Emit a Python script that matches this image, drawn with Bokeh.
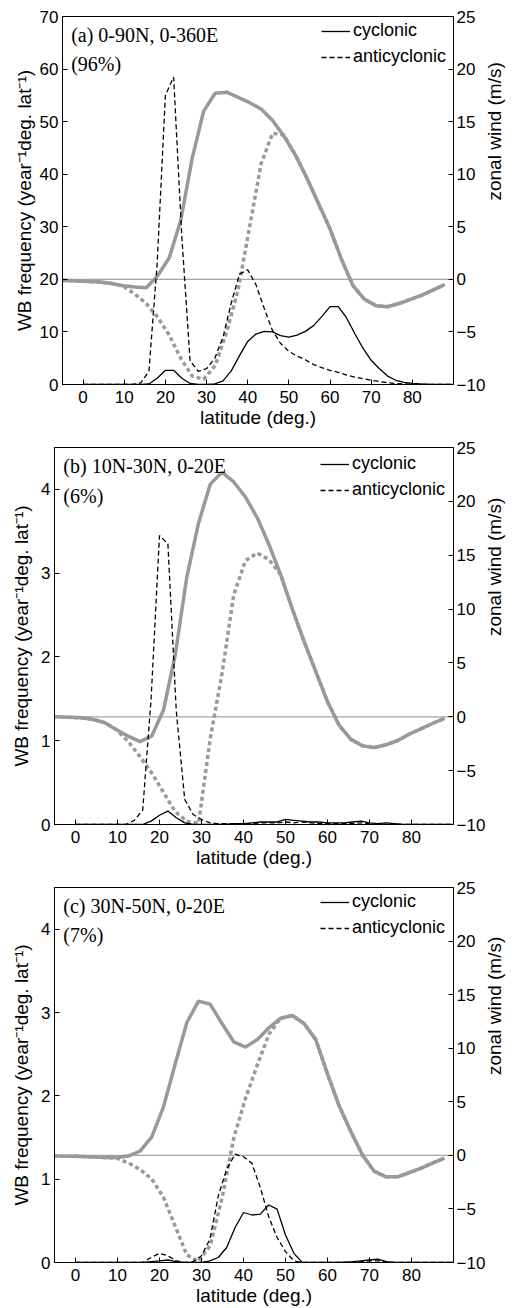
import math

from bokeh.embed import file_html
from bokeh.models import (CustomJSTickFormatter, FixedTicker, Label, Legend,
                          LegendItem, LinearAxis, Range1d, Span)
from bokeh.plotting import figure
from bokeh.resources import INLINE

# ---------------------------------------------------------------- data
# zonal-wind latitudes (T42 Gaussian grid, deg N)
lat_w = [-6.98, -4.19, -1.40, 1.40, 4.19, 6.98, 9.77, 12.56, 15.35, 18.14,
         20.93, 23.72, 26.51, 29.30, 32.09, 34.88, 37.67, 40.47, 43.26, 46.05,
         48.84, 51.63, 54.42, 57.21, 60.00, 62.79, 65.58, 68.37, 71.16, 73.95,
         76.74, 79.53, 82.33, 85.12, 87.86]

# wave-breaking frequency latitudes (deg N)
lat_f = [0, 2, 4, 6, 8, 10, 12, 14, 16, 18, 20, 22, 24, 26, 28, 30, 32, 34,
         36, 38, 40, 42, 44, 46, 48, 50, 52, 54, 56, 58, 60, 62, 64, 66, 68,
         70, 72, 74, 76, 78, 80, 82, 84, 86, 88, 90]

# (a) 0-90N, 0-360E
wind_a = [-0.1, -0.1, -0.15, -0.2, -0.25, -0.4, -0.6, -0.72, -0.8, 0.35,
          2.05, 5.6, 11.5, 16.0, 17.7, 17.8, 17.3, 16.8, 16.2, 15.1,
          13.6, 11.8, 9.6, 7.2, 4.8, 1.9, -0.6, -1.9, -2.5, -2.6,
          -2.3, -1.9, -1.5, -1.0, -0.5]
wind2_a = [-0.1, -0.1, -0.15, -0.2, -0.25, -0.4, -0.65, -1.4, -2.3, -3.6,
           -5.3, -7.5, -9.2, -9.5, -8.2, -5.0, -1.0, 5.0, 11.0, 13.9,
           13.7, 11.8, 9.6, 7.2, 4.8, 1.9, -0.6, -1.9, -2.5, -2.6,
           -2.3, -1.9, -1.5, -1.0, -0.5]
cyc_a = [0, 0, 0, 0, 0, 0, 0, 0, 0.1, 1.2, 2.7, 2.7, 1.2, 0.2, 0, 0, 0.1, 0.7,
         2.6, 5.5, 8.2, 9.6, 10.1, 10.0, 9.3, 9.0, 9.4, 10.1, 11.2, 12.9, 14.8,
         14.8, 12.7, 9.7, 6.9, 4.6, 3.0, 1.6, 0.8, 0.4, 0.2, 0.1, 0.05, 0.02,
         0.01, 0]
anti_a = [0, 0, 0, 0, 0, 0, 0, 0.3, 2.5, 23.0, 55.0, 58.5, 28.0, 4.5, 2.5, 3.0,
          5.0, 9.0, 15.5, 21.0, 21.8, 19.0, 14.5, 10.3, 7.8, 6.3, 5.4, 4.7, 3.8,
          3.2, 2.7, 2.3, 1.8, 1.4, 1.1, 0.8, 0.55, 0.35, 0.2, 0.1, 0.05, 0.02,
          0, 0, 0, 0]

# (b) 10N-30N, 0-20E
wind_b = [0.0, 0.0, -0.05, -0.1, -0.25, -0.55, -1.2, -1.8, -2.3, -1.8,
          0.6, 5.7, 13.0, 18.0, 21.6, 22.7, 21.8, 20.4, 18.5, 16.0,
          13.2, 10.0, 7.0, 4.2, 1.4, -0.8, -2.1, -2.7, -2.85, -2.6,
          -2.2, -1.6, -1.1, -0.6, -0.15]
wind2_b = [0.0, 0.0, -0.05, -0.1, -0.25, -0.55, -1.2, -2.3, -3.7, -5.2,
           -7.0, -8.8, -9.7, -9.9, -2.0, 4.0, 11.3, 14.5, 15.2, 14.6,
           13.2, 10.0, 7.0, 4.2, 1.4, -0.8, -2.1, -2.7, -2.85, -2.6,
           -2.2, -1.6, -1.1, -0.6, -0.15]
cyc_b = [0, 0, 0, 0, 0, 0, 0, 0, 0, 0.04, 0.11, 0.16, 0.08, 0.02, 0, 0, 0, 0,
         0.005, 0.01, 0.01, 0.02, 0.03, 0.03, 0.03, 0.06, 0.05, 0.04, 0.03,
         0.03, 0.02, 0.02, 0.02, 0.03, 0.04, 0.02, 0.01, 0.02, 0.01, 0, 0, 0,
         0, 0, 0, 0]
anti_b = [0, 0, 0, 0, 0, 0, 0, 0.05, 0.17, 1.5, 3.45, 3.35, 1.35, 0.3, 0.12,
          0.06, 0.02, 0.01, 0.01, 0.01, 0.01, 0.01, 0.02, 0.02, 0.02, 0.03,
          0.02, 0.03, 0.02, 0.01, 0.01, 0.01, 0.01, 0.01, 0.02, 0.01, 0, 0, 0,
          0, 0, 0, 0, 0, 0, 0]

# (c) 30N-50N, 0-20E
wind_c = [-0.05, -0.07, -0.08, -0.1, -0.15, -0.2, -0.2, -0.07, 0.4, 1.7,
          4.5, 8.5, 12.4, 14.4, 14.1, 12.3, 10.6, 10.1, 10.8, 11.9,
          12.8, 13.05, 12.3, 10.8, 7.6, 4.6, 2.2, 0.0, -1.5, -2.0,
          -2.0, -1.6, -1.2, -0.7, -0.25]
wind2_c = [-0.05, -0.07, -0.08, -0.1, -0.15, -0.2, -0.25, -0.7, -1.3, -2.2,
           -3.9, -6.6, -9.3, -9.9, -8.4, -4.0, 1.6, 5.3, 8.4, 11.3,
           12.8, 13.05, 12.3, 10.8, 7.6, 4.6, 2.2, 0.0, -1.5, -2.0,
           -2.0, -1.6, -1.2, -0.7, -0.25]
cyc_c = [0, 0, 0, 0, 0, 0, 0, 0, 0, 0.01, 0.02, 0.03, 0.01, 0, 0, 0, 0.02,
         0.06, 0.18, 0.42, 0.60, 0.57, 0.58, 0.69, 0.64, 0.33, 0.11, 0, 0, 0,
         0, 0, 0.005, 0.01, 0.02, 0.03, 0.04, 0.01, 0, 0, 0, 0, 0, 0, 0, 0]
anti_c = [0, 0, 0, 0, 0, 0, 0, 0, 0, 0.06, 0.11, 0.08, 0.02, 0, 0.01, 0.08,
          0.28, 0.8, 1.12, 1.30, 1.27, 1.19, 0.9, 0.55, 0.3, 0.13, 0.02, 0, 0,
          0, 0, 0, 0, 0, 0.01, 0.02, 0.02, 0.01, 0, 0, 0, 0, 0, 0, 0, 0]

lat_ticks = [0, 10, 20, 30, 40, 50, 60, 70, 80]
freq_ticks_a = [0, 10, 20, 30, 40, 50, 60, 70]
freq_ticks_bc = [0, 1, 2, 3, 4]
wind_ticks = [-10, -5, 0, 5, 10, 15, 20, 25]

titles = ["(a) 0-90N, 0-360E", "(b) 10N-30N, 0-20E", "(c) 30N-50N, 0-20E"]
shares = ["(96%)", "(6%)", "(7%)"]

# ---------------------------------------------------------------- styling
SANS = "Liberation Sans"
SERIF = "Liberation Serif"
GREY = "#999999"
ZERO_GREY = "#a6a6a6"
TICK_PX = "17px"
LABEL_PX = "19px"
LEGEND_PX = "18px"

minus_fmt = CustomJSTickFormatter(
    code="return tick < 0 ? '\u2212' + Math.abs(tick) : String(tick);")


def style_axis(ax, ticks, standoff, label_standoff):
    ax.ticker = FixedTicker(ticks=ticks)
    ax.formatter = minus_fmt
    ax.axis_line_color = "black"
    ax.axis_line_width = 1
    ax.major_tick_in = 5
    ax.major_tick_out = 0
    ax.minor_tick_in = 0
    ax.minor_tick_out = 0
    ax.major_tick_line_color = "black"
    ax.major_label_text_font = SANS
    ax.major_label_text_font_size = TICK_PX
    ax.major_label_text_color = "black"
    ax.major_label_standoff = standoff
    ax.axis_label_text_font = SANS
    ax.axis_label_text_font_size = LABEL_PX
    ax.axis_label_text_font_style = "normal"
    ax.axis_label_text_color = "black"
    ax.axis_label_standoff = label_standoff


def make_panel(height, top, left, right, frame_h, fmax, fticks,
               wind, wind2, cyc, anti, title, share, ylab_standoff):
    bottom = height - top - frame_h
    p = figure(width=518, height=height, x_range=Range1d(-5, 90),
               y_range=Range1d(0, fmax), output_backend="svg",
               toolbar_location=None, min_border=0,
               min_border_left=left, min_border_right=right,
               min_border_top=top, min_border_bottom=bottom)
    p.extra_y_ranges = {"wind": Range1d(-10, 25)}
    p.grid.visible = False
    p.outline_line_color = "black"
    p.outline_line_width = 1
    p.outline_line_alpha = 1
    p.background_fill_color = "white"
    p.border_fill_color = "white"

    style_axis(p.xaxis[0], lat_ticks, 6, 1)
    p.xaxis[0].axis_label = "latitude (deg.)"
    style_axis(p.yaxis[0], fticks, 4, ylab_standoff)
    p.yaxis[0].axis_label = "WB frequency (year\u207b\u00b9deg. lat\u207b\u00b9)"

    wax = LinearAxis(y_range_name="wind", axis_label="zonal wind (m/s)")
    style_axis(wax, wind_ticks, 3, 6)
    wax.axis_label_orientation = math.pi / 2
    p.add_layout(wax, "right")

    # zero-wind reference line
    p.add_layout(Span(location=0, dimension="width", y_range_name="wind",
                      line_color=ZERO_GREY, line_width=1.2, level="underlay"))

    p.line(lat_w, wind2, y_range_name="wind", line_color=GREY,
           line_width=3.5, line_dash="4 3")
    p.line(lat_w, wind, y_range_name="wind", line_color=GREY, line_width=3.5)
    r_c = p.line(lat_f, cyc, line_color="black", line_width=1.3)
    r_a = p.line(lat_f, anti, line_color="black", line_width=1.3,
                 line_dash="5 3")

    # panel annotations, placed a fixed pixel offset below the top frame
    px = fmax / frame_h
    p.add_layout(Label(x=-2.9, y=fmax - 18.5 * px, text=title,
                       text_font=SERIF, text_font_size="20px",
                       text_baseline="middle", text_color="black"))
    p.add_layout(Label(x=-2.9, y=fmax - 48 * px, text=share,
                       text_font=SERIF, text_font_size="20px",
                       text_baseline="middle", text_color="black"))

    legend = Legend(items=[LegendItem(label="cyclonic", renderers=[r_c]),
                           LegendItem(label="anticyclonic", renderers=[r_a])],
                    location=(518 - left - right - 139, frame_h - 8 - 45),
                    border_line_alpha=0, background_fill_alpha=0,
                    padding=0, margin=0, spacing=5,
                    glyph_width=29, glyph_height=20, label_height=20,
                    label_standoff=3, label_text_font=SANS,
                    label_text_font_size=LEGEND_PX,
                    label_text_color="black",
                    label_text_baseline="middle")
    p.add_layout(legend)
    return p


pa = make_panel(430, 16, 62, 58, 370, 70, freq_ticks_a,
                wind_a, wind2_a, cyc_a, anti_a, titles[0], shares[0], 2)
pb = make_panel(440, 17, 54, 59, 377, 4.5, freq_ticks_bc,
                wind_b, wind2_b, cyc_b, anti_b, titles[1], shares[1], 6)
pc = make_panel(438, 17, 54, 59, 377, 4.5, freq_ticks_bc,
                wind_c, wind2_c, cyc_c, anti_c, titles[2], shares[2], 6)

# each panel is its own root so that their frames keep their own borders
with open("out.html", "w", encoding="utf-8") as f:
    f.write(file_html([pa, pb, pc], INLINE))
